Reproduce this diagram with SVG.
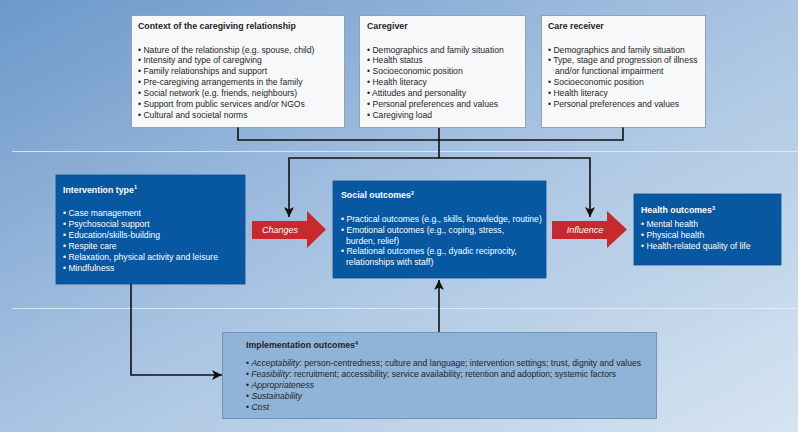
<svg xmlns="http://www.w3.org/2000/svg" width="798" height="432" viewBox="0 0 798 432">
<defs>
<linearGradient id="bg" x1="0" y1="0" x2="1" y2="1">
<stop offset="0" stop-color="#6c98ca"/>
<stop offset="0.5" stop-color="#a9c4e2"/>
<stop offset="1" stop-color="#d6e4f1"/>
</linearGradient>
<marker id="ah" viewBox="0 0 10 10" refX="10" refY="5" markerWidth="10" markerHeight="10" markerUnits="userSpaceOnUse" orient="auto">
<path d="M0,0 L10,5 L0,10 L2.5,5 Z" fill="#111"/>
</marker>
<style>
text{font-family:"Liberation Sans",Arial,sans-serif;font-size:8.6px}
.t{font-weight:bold;font-size:8.8px}
.dk{fill:#1f1f1f}
.wh{fill:#ffffff}
.lt{fill:#f7f8f9;stroke:#8ea2ba;stroke-width:1}
.db{fill:#0857a1;stroke:#0a4f91;stroke-width:0.8}
.ib{fill:#8fb4d8;stroke:#6f93ba;stroke-width:1}
.red{fill:#c9282d}
.cn{fill:none;stroke:#111;stroke-width:1.6}
.sep{stroke:#e8f0f8;stroke-width:1;opacity:0.8}
.i{font-style:italic}
.sup{font-size:5.5px;font-weight:bold}
.al{fill:#fff;font-style:italic;font-size:9px;text-anchor:middle}
</style>
</defs>
<rect x="0" y="0" width="798" height="432" fill="url(#bg)"/>
<line class="sep" x1="12" y1="151.5" x2="798" y2="151.5"/>
<line class="sep" x1="12" y1="308.5" x2="798" y2="308.5"/>

<g id="context">
<rect class="lt" x="131.5" y="15.5" width="213" height="112"/>
<text class="t dk" x="138" y="29">Context of the caregiving relationship</text>
<text class="dk" x="138" y="52.5">• Nature of the relationship (e.g. spouse, child)</text>
<text class="dk" x="138" y="63.4">• Intensity and type of caregiving</text>
<text class="dk" x="138" y="74.3">• Family relationships and support</text>
<text class="dk" x="138" y="85.2">• Pre-caregiving arrangements in the family</text>
<text class="dk" x="138" y="96.1">• Social network (e.g. friends, neighbours)</text>
<text class="dk" x="138" y="107">• Support from public services and/or NGOs</text>
<text class="dk" x="138" y="117.9">• Cultural and societal norms</text>
</g>

<g id="caregiver">
<rect class="lt" x="359.5" y="15.5" width="166" height="112"/>
<text class="t dk" x="367" y="29">Caregiver</text>
<text class="dk" x="367" y="52.5">• Demographics and family situation</text>
<text class="dk" x="367" y="63.4">• Health status</text>
<text class="dk" x="367" y="74.3">• Socioeconomic position</text>
<text class="dk" x="367" y="85.2">• Health literacy</text>
<text class="dk" x="367" y="96.1">• Attitudes and personality</text>
<text class="dk" x="367" y="107">• Personal preferences and values</text>
<text class="dk" x="367" y="117.9">• Caregiving load</text>
</g>

<g id="care-receiver">
<rect class="lt" x="541.5" y="15.5" width="164" height="112"/>
<text class="t dk" x="548" y="29">Care receiver</text>
<text class="dk" x="548" y="52.5">• Demographics and family situation</text>
<text class="dk" x="548" y="63.4">• Type, stage and progression of illness</text>
<text class="dk" x="555" y="74.3">and/or functional impairment</text>
<text class="dk" x="548" y="85.2">• Socioeconomic position</text>
<text class="dk" x="548" y="96.1">• Health literacy</text>
<text class="dk" x="548" y="107">• Personal preferences and values</text>
</g>

<g id="intervention">
<rect class="db" x="56" y="175" width="189" height="109"/>
<text class="t wh" x="63" y="192.5">Intervention type<tspan class="sup" dy="-3.5">1</tspan></text>
<text class="wh" x="63" y="215.5">• Case management</text>
<text class="wh" x="63" y="226.5">• Psychosocial support</text>
<text class="wh" x="63" y="237.5">• Education/skills-building</text>
<text class="wh" x="63" y="248.5">• Respite care</text>
<text class="wh" x="63" y="259.5">• Relaxation, physical activity and leisure</text>
<text class="wh" x="63" y="270.5">• Mindfulness</text>
</g>

<g id="social">
<rect class="db" x="333" y="181" width="213" height="97"/>
<text class="t wh" x="341" y="198">Social outcomes<tspan class="sup" dy="-3.5">2</tspan></text>
<text class="wh" x="341" y="222">• Practical outcomes (e.g., skills, knowledge, routine)</text>
<text class="wh" x="341" y="232.8">• Emotional outcomes (e.g., coping, stress,</text>
<text class="wh" x="346" y="243.6">burden, relief)</text>
<text class="wh" x="341" y="254.4">• Relational outcomes (e.g., dyadic reciprocity,</text>
<text class="wh" x="346" y="265.2">relationships with staff)</text>
</g>

<g id="health">
<rect class="db" x="634" y="194" width="147" height="71"/>
<text class="t wh" x="641" y="213">Health outcomes<tspan class="sup" dy="-3.5">3</tspan></text>
<text class="wh" x="641" y="226.5">• Mental health</text>
<text class="wh" x="641" y="237.5">• Physical health</text>
<text class="wh" x="641" y="248.5">• Health-related quality of life</text>
</g>

<g id="implementation">
<rect class="ib" x="222.5" y="332.5" width="434" height="86"/>
<text class="t dk" x="246" y="348">Implementation outcomes<tspan class="sup" dy="-3.5">4</tspan></text>
<text class="dk" x="246" y="366" textLength="395" lengthAdjust="spacingAndGlyphs">• <tspan class="i">Acceptability:</tspan> person-centredness; culture and language; intervention settings; trust, dignity and values</text>
<text class="dk" x="246" y="377" textLength="370" lengthAdjust="spacingAndGlyphs">• <tspan class="i">Feasibility</tspan>: recruitment; accessibility; service availability; retention and adoption; systemic factors</text>
<text class="dk" x="246" y="388">• <tspan class="i">Appropriateness</tspan></text>
<text class="dk" x="246" y="399">• <tspan class="i">Sustainability</tspan></text>
<text class="dk" x="246" y="410">• <tspan class="i">Cost</tspan></text>
</g>

<g id="changes">
<polygon class="red" points="252,221 307,221 307,211 326,229.5 307,248 307,239 252,239"/>
<text class="al" x="280" y="233">Changes</text>
</g>

<g id="influence">
<polygon class="red" points="552,221 607,221 607,211 627,229.5 607,248 607,239 552,239"/>
<text class="al" x="585" y="233">Influence</text>
</g>

<g id="connectors">
<path class="cn" d="M238,127.5 V140 H623 V127.5"/>
<path class="cn" d="M439,128 V158"/>
<path class="cn" d="M439,158 H289 V217" marker-end="url(#ah)"/>
<path class="cn" d="M439,158 H590 V217" marker-end="url(#ah)"/>
<path class="cn" d="M131,284 V375 H222" marker-end="url(#ah)"/>
<path class="cn" d="M439,332 V280" marker-end="url(#ah)"/>
</g>
</svg>
